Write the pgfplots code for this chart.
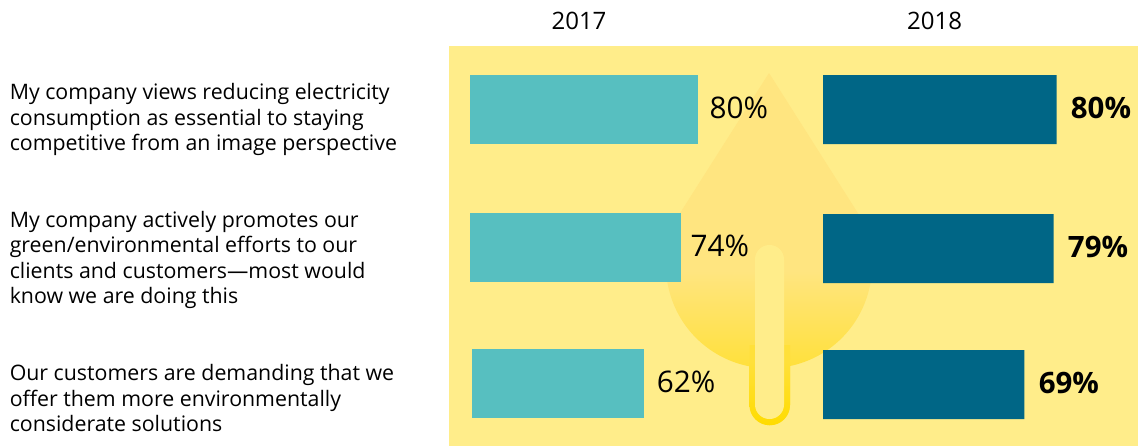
\documentclass[border=0pt]{standalone}
\usepackage{pgfplots}
\pgfplotsset{compat=1.18}
\usepackage{fontspec}
\setmainfont{Open Sans}
\definecolor{panel}{HTML}{FFED8A}
\definecolor{dropbody}{HTML}{FFE580}
\definecolor{dropbase}{HTML}{FFE03A}
\definecolor{stembase}{HTML}{FFDC00}
\definecolor{lightbar}{HTML}{57BFC0}
\definecolor{darkbar}{HTML}{006686}
% Common set-up: one unit of y is one layout unit, x is a percentage
\pgfplotsset{
  rowbars/.style={
    hide axis, clip=false, scale only axis, xbar,
    anchor=north west,
    height=334.5pt, ymin=0, ymax=446, y dir=reverse,
    xmin=0, xmax=100,
    bar width=51.75pt, bar shift=0pt,
    point meta=x,
    /pgf/number format/assume math mode=true,
    nodes near coords={\pgfmathprintnumber{\pgfplotspointmeta}\%},
    every node near coord/.append style={anchor=west, inner sep=0pt, text=black, yshift=1.5pt},
  }
}
\newcommand{\rowtext}[3]{\node[anchor=base west, inner sep=0pt, font=\fontsize{16pt}{18pt}\selectfont, text=black] at (#1,#2) {#3};}
\begin{document}
\begin{tikzpicture}[x=0.75pt, y=-0.75pt]
\path[use as bounding box] (0,0) rectangle (1138,446);
% Panel behind the bars
\fill[panel] (449,46) rectangle (1138,446);
% Drop with its stem, shaded downwards
\begin{scope}
  \clip (769,73) -- (682,210) arc[start angle=212.4, end angle=-32.4, radius=103] -- cycle;
  \fill[dropbody] (660,70) rectangle (880,272);
  \shade[top color=dropbody, bottom color=dropbase] (660,271) rectangle (880,369);
\end{scope}
\fill[dropbase] (749.5,345) -- (749.5,405) arc[start angle=180, end angle=0, radius=20.25] -- (790,345) -- cycle;
\shade[top color=dropbase, bottom color=stembase] (749.5,362) -- (749.5,405) arc[start angle=180, end angle=0, radius=20.25] -- (790,362) -- cycle;
\fill[panel] (755,259.5) arc[start angle=180, end angle=360, radius=14.5] -- (784,404.5) arc[start angle=0, end angle=180, radius=14.5] -- cycle;
% 2017 bars
\begin{axis}[rowbars, at={(352.5pt,0pt)}, width=213.75pt,
  every node near coord/.append style={font=\fontsize{22.3pt}{24pt}\selectfont}]
\addplot[draw=none, fill=lightbar, every node near coord/.append style={xshift=8.5pt}] coordinates {(80,109.5)};
\addplot[draw=none, fill=lightbar, every node near coord/.append style={xshift=7pt}] coordinates {(74,247.5)};
\end{axis}
\begin{axis}[rowbars, at={(354pt,0pt)}, width=208.05pt,
  every node near coord/.append style={font=\fontsize{22.3pt}{24pt}\selectfont, xshift=9.5pt}]
\addplot[draw=none, fill=lightbar] coordinates {(62,383.5)};
\end{axis}
% 2018 bars
\begin{axis}[rowbars, at={(617.25pt,0pt)}, width=219pt,
  every node near coord/.append style={font=\bfseries\fontsize{22.1pt}{24pt}\selectfont, xshift=10.5pt}]
\addplot[draw=none, fill=darkbar] coordinates {(80,109.5) (79,248.5) (69,384.5)};
\end{axis}
% Column heads
\node[font=\fontsize{18pt}{20pt}\selectfont, text=black] at (579,21) {2017};
\node[font=\fontsize{18pt}{20pt}\selectfont, text=black] at (934.5,21) {2018};
% Row statements
\rowtext{9.5}{99}{My company views reducing electricity}
\rowtext{9.5}{125}{consumption as essential to staying}
\rowtext{9.5}{150}{competitive from an image perspective}
\rowtext{9.5}{227}{My company actively promotes our}
\rowtext{9.5}{252}{green/environmental efforts to our}
\rowtext{9.5}{278}{clients and customers—most would}
\rowtext{9.5}{303}{know we are doing this}
\rowtext{9.5}{380}{Our customers are demanding that we}
\rowtext{9.5}{406}{offer them more environmentally}
\rowtext{9.5}{431}{considerate solutions}
\end{tikzpicture}
\end{document}
